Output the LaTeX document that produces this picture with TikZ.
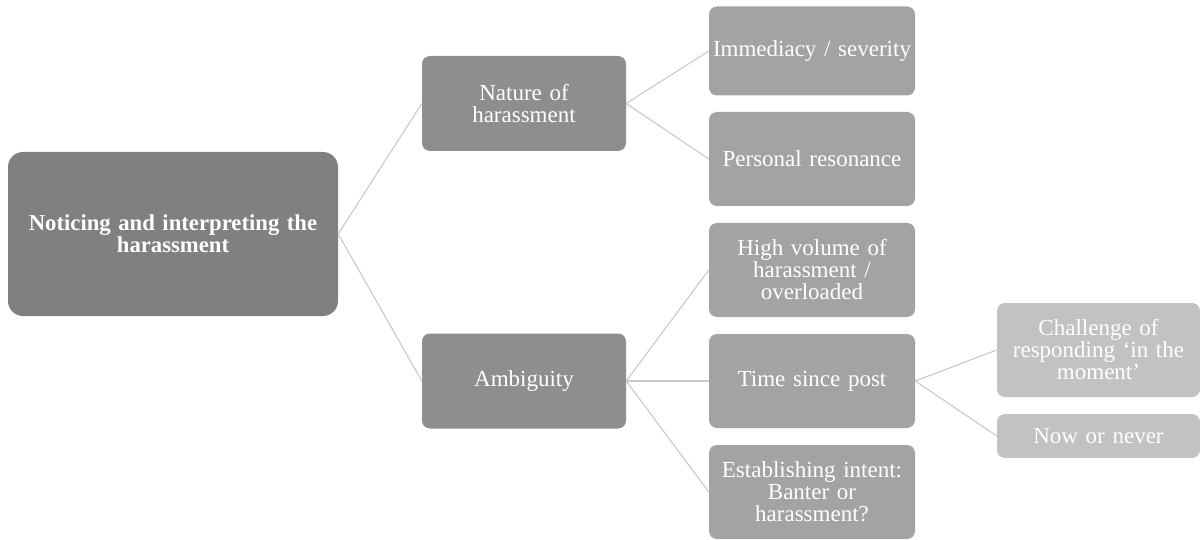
\documentclass[tikz,border=0pt]{standalone}
\usepackage{fontspec}
\setmainfont{Liberation Serif}
\definecolor{croot}{HTML}{808080}
\definecolor{cone}{HTML}{8E8E8E}
\definecolor{ctwo}{HTML}{A3A3A3}
\definecolor{cthree}{HTML}{C2C2C2}
\definecolor{cline}{HTML}{CACACA}
\tikzset{
  box/.style={draw=none, rounded corners=8pt, text=white, align=center, inner sep=2pt,
    font=\fontsize{23}{22}\selectfont},
  rootbox/.style={box, fill=croot, rounded corners=15pt, minimum width=330pt, minimum height=164pt, text width=322pt,
    font=\fontsize{22.7}{20.5}\selectfont\bfseries},
  lone/.style={box, fill=cone, minimum width=204pt, minimum height=95pt, text width=200pt},
  ltwo/.style={box, fill=ctwo, minimum width=204pt, minimum height=94pt, text width=202pt},
  lthree/.style={box, fill=cthree, minimum width=201pt, text width=199pt},
  conn/.style={draw=cline, line width=1.1pt}
}
\begin{document}
\begin{tikzpicture}[x=1pt,y=-1pt]
\useasboundingbox[fill=white] (0,0) rectangle (1200,540);
\node[rootbox] (root) at (173,234) {Noticing and interpreting the\\harassment};
\node[lone] (nat) at (524,103.5) {Nature of\\harassment};
\node[lone] (amb) at (524,381) {Ambiguity};
\node[ltwo, minimum height=89pt] (imm) at (812,51) {Immediacy / severity};
\node[ltwo] (per) at (812,159) {Personal resonance};
\node[ltwo] (high) at (812,270) {High volume of\\harassment /\\overloaded};
\node[ltwo] (time) at (812,381) {Time since post};
\node[ltwo] (est) at (812,492) {Establishing intent:\\Banter or\\harassment?};
\node[lthree, minimum height=94pt] (chal) at (1098.5,350) {Challenge of\\responding `in the\\moment'};
\node[lthree, minimum height=44pt] (now) at (1098.5,436) {Now or never};
\draw[conn] (root.east) -- (nat.west);
\draw[conn] (root.east) -- (amb.west);
\draw[conn] (nat.east) -- (imm.west);
\draw[conn] (nat.east) -- (per.west);
\draw[conn] (amb.east) -- (high.west);
\draw[conn] (amb.east) -- (time.west);
\draw[conn] (amb.east) -- (est.west);
\draw[conn] (time.east) -- (chal.west);
\draw[conn] (time.east) -- (now.west);
\end{tikzpicture}
\end{document}
